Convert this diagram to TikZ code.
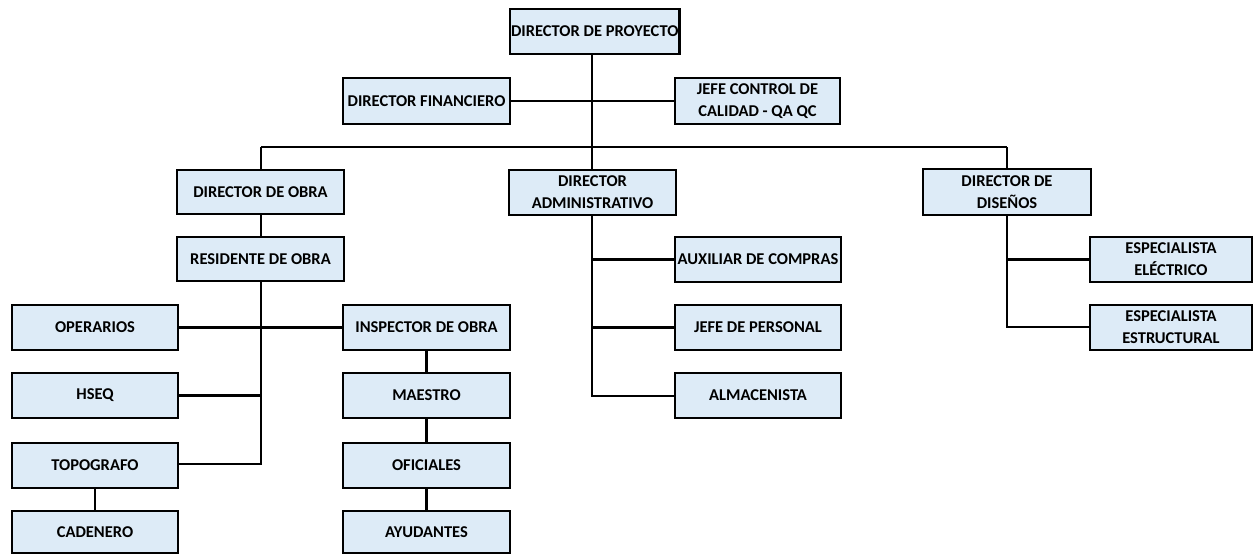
\documentclass[tikz,border=0pt]{standalone}
\usepackage{fontspec}
\setmainfont{Carlito}
\definecolor{boxfill}{HTML}{DDEBF7}
\begin{document}
\begin{tikzpicture}[x=1pt,y=-1pt,
  orgbox/.style={draw=black, line width=2.2pt, fill=boxfill, anchor=north west,
    minimum width=166pt, minimum height=45pt, inner sep=1pt, outer sep=0pt,
    align=center, font=\fontsize{16.5}{22}\selectfont\bfseries},
  link/.style={line width=2.2pt, draw=black}]
\useasboundingbox (0,0) rectangle (1253,554);
% nodes
\node[orgbox, minimum width=165pt] (dp) at (510,9) {DIRECTOR DE PROYECTO};
\node[orgbox, minimum width=167pt, minimum height=46pt] (df) at (343,78) {DIRECTOR FINANCIERO};
\node[orgbox, minimum width=165pt, minimum height=46pt] (jc) at (675,78) {JEFE CONTROL DE\\CALIDAD - QA QC};
\node[orgbox, minimum width=167pt, minimum height=44pt] (dob) at (177,170) {DIRECTOR DE OBRA};
\node[orgbox, minimum width=167pt, minimum height=44pt] (res) at (177,237) {RESIDENTE DE OBRA};
\node[orgbox, minimum width=167pt] (dad) at (509,170) {DIRECTOR\\ADMINISTRATIVO};
\node[orgbox, minimum width=168pt, minimum height=46pt] (dds) at (923,169) {DIRECTOR DE\\DISEÑOS};
\node[orgbox] (aux) at (675,237) {AUXILIAR DE COMPRAS};
\node[orgbox] (jp) at (675,305) {JEFE DE PERSONAL};
\node[orgbox] (alm) at (675,373) {ALMACENISTA};
\node[orgbox, minimum width=162pt] (ee) at (1090,237) {ESPECIALISTA\\ELÉCTRICO};
\node[orgbox, minimum width=162pt] (es) at (1090,305) {ESPECIALISTA\\ESTRUCTURAL};
\node[orgbox] (op) at (12,305) {OPERARIOS};
\node[orgbox] (hs) at (12,373) {HSEQ};
\node[orgbox] (to) at (12,443) {TOPOGRAFO};
\node[orgbox, minimum height=42pt] (ca) at (12,511) {CADENERO};
\node[orgbox, minimum width=167pt] (in) at (343,305) {INSPECTOR DE OBRA};
\node[orgbox, minimum width=167pt] (ma) at (343,373) {MAESTRO};
\node[orgbox, minimum width=167pt] (of) at (343,443) {OFICIALES};
\node[orgbox, minimum width=167pt, minimum height=42pt] (ay) at (343,511) {AYUDANTES};
% helper coordinates
\coordinate (bus) at (592,147);
\coordinate (busL) at (261,147);
\coordinate (busR) at (1007,147);
\coordinate (resEnd) at (261,464);
\coordinate (admEnd) at (592,396);
\coordinate (disEnd) at (1007,327);
% connectors
\draw[link] (dp.south -| bus) -- (bus);
\draw[link] (df.east) -- (jc.west);
\draw[link] (busL) -- (busR);
\draw[link] (busL) -- (dob.north -| busL);
\draw[link] (bus) -- (dad.north -| bus);
\draw[link] (busR) -- (dds.north -| busR);
\draw[link] (dob.south -| busL) -- (res.north -| busL);
\draw[link] (res.south -| busL) -- (resEnd) -- (to.east |- resEnd);
\draw[link] (op.east) -- (in.west);
\draw[link] (hs.east) -- (hs.east -| resEnd);
\draw[link] (to.south) -- (ca.north);
\draw[link] (in.south) -- (ma.north);
\draw[link] (ma.south) -- (of.north);
\draw[link] (of.south) -- (ay.north);
\draw[link] (dad.south -| bus) -- (admEnd) -- (alm.west |- admEnd);
\draw[link] (aux.west) -- (aux.west -| admEnd);
\draw[link] (jp.west) -- (jp.west -| admEnd);
\draw[link] (dds.south -| busR) -- (disEnd) -- (es.west |- disEnd);
\draw[link] (ee.west) -- (ee.west -| disEnd);
\end{tikzpicture}
\end{document}
